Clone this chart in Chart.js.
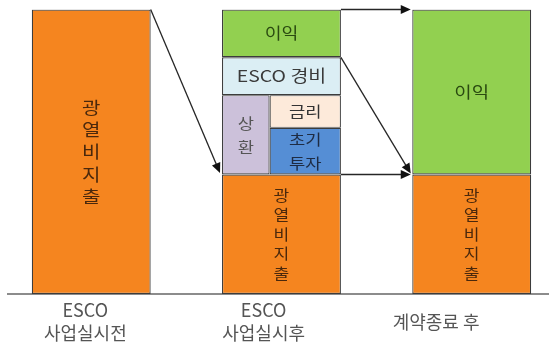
<!DOCTYPE html>
<html lang="ko">
<head>
<meta charset="utf-8">
<title>ESCO 사업 비용 구조</title>
<script src="https://cdn.jsdelivr.net/npm/chart.js@4.4.1/dist/chart.umd.min.js"></script>
<style>
  html, body { margin: 0; padding: 0; background: #fff; }
</style>
</head>
<body>
<canvas id="c" width="549" height="344"></canvas>
<script>
// stages along the bottom axis
const stageLabels = [['ESCO', '사업실시전'], ['ESCO', '사업실시후'], '계약종료 후'];

// cost split per stage, as a share of the energy bill before the project (= 100)
const energyCost    = [100, 42, 42];
const repayment     = [null, 27.9, null];   // 상환 = 금리 + 초기투자
const interest      = [null, 11.5, null];
const initialInvest = [null, 16.4, null];
const escoFee       = [null, 13.3, null];
const profit        = [null, 16.8, 58];

// words written inside the blocks ('\n' starts a new line)
const energyText   = ['광\n열\n비\n지\n출', '광\n열\n비\n지\n출', '광\n열\n비\n지\n출'];
const repayText    = [null, '상\n환', null];
const interestText = [null, '금리', null];
const investText   = [null, '초기\n투자', null];
const feeText      = [null, 'ESCO 경비', null];
const profitText   = [null, '이익', '이익'];

// ---- layout on the x scale (1 unit = one tick step) ----
const COL_X = [0, 32, 64];     // column centres
const COL_W = 20;              // column width
const LEFT_W = 8;              // 상환 strip on the left of the middle column
const LABEL_X = [-1, 29, 58];  // where the stage names sit
const FONT = "'Noto Sans CJK KR', 'Noto Sans', sans-serif";

const leftX = c => c - COL_W / 2 + LEFT_W / 2;
const rightX = c => c - COL_W / 2 + LEFT_W + (COL_W - LEFT_W) / 2;

// floating blocks [low, high] stacked by hand, since the middle column is split in two
const blocks = { energy: [], repay: [], invest: [], interest: [], fee: [], profit: [] };
stageLabels.forEach((_, i) => {
  const cx = COL_X[i];
  let level = energyCost[i];
  blocks.energy.push({ x: cx, y: [0, level], text: energyText[i], col: i });
  if (repayment[i]) {
    const mid = level + initialInvest[i];
    blocks.repay.push({ x: leftX(cx), y: [level, level + repayment[i]], text: repayText[i], col: i });
    blocks.invest.push({ x: rightX(cx), y: [level, mid], text: investText[i], col: i });
    blocks.interest.push({ x: rightX(cx), y: [mid, mid + interest[i]], text: interestText[i], col: i });
    level += repayment[i];
  }
  if (escoFee[i]) {
    blocks.fee.push({ x: cx, y: [level, level + escoFee[i]], text: feeText[i], col: i });
    level += escoFee[i];
  }
  if (profit[i]) {
    blocks.profit.push({ x: cx, y: [level, level + profit[i]], text: profitText[i], col: i });
    level += profit[i];
  }
});

function block(label, data, fill, width, ink, size, gap) {
  return {
    label, data,
    backgroundColor: fill,
    borderColor: '#3c3c3c',
    borderWidth: 1.2,
    borderSkipped: false,
    barPercentage: width,
    categoryPercentage: 1,
    grouped: false,
    ink, size, gap,
  };
}

const datasets = [
  block('광열비 지출', blocks.energy, '#F5851F', COL_W, '#4a280c', [17, 14.5, 14.5], [22.3, 19.5, 19.5]),
  block('상환', blocks.repay, '#CCC1DA', LEFT_W, '#555555', 15, 24),
  block('초기투자', blocks.invest, '#558ED5', COL_W - LEFT_W, '#1e2c44', 15, 24),
  block('금리', blocks.interest, '#FDEADA', COL_W - LEFT_W, '#333333', 15, 20),
  block('ESCO 경비', blocks.fee, '#DBEEF4', COL_W, '#3a3a3a', 16.5, 20),
  block('이익', blocks.profit, '#92D050', COL_W, '#2a4a10', [15.5, 16], 20),
];

const pick = (v, i) => (Array.isArray(v) ? v[i] : v);

// labels inside each block
const blockText = {
  id: 'blockText',
  afterDatasetsDraw(chart) {
    const ctx = chart.ctx;
    chart.data.datasets.forEach((ds, di) => {
      chart.getDatasetMeta(di).data.forEach((bar, j) => {
        const text = ds.data[j].text;
        if (!text) return;
        const lines = text.split('\n');
        const size = pick(ds.size, j), gap = pick(ds.gap, j);
        const cy = (bar.y + bar.base) / 2;
        ctx.save();
        ctx.font = `${size}px ${FONT}`;
        ctx.fillStyle = ds.ink;
        ctx.textAlign = 'center';
        ctx.textBaseline = 'middle';
        ctx.translate(bar.x, cy);
        ctx.scale(1.18, 1);
        lines.forEach((ln, k) => ctx.fillText(ln, 0, (k - (lines.length - 1) / 2) * gap));
        ctx.restore();
      });
    });
  },
};

function arrow(ctx, x0, y0, x1, y1) {
  const a = Math.atan2(y1 - y0, x1 - x0), len = 10, half = 4.5;
  const c = Math.cos(a), s = Math.sin(a);
  ctx.beginPath();
  ctx.moveTo(x0, y0);
  ctx.lineTo(x1 - c * len * 0.6, y1 - s * len * 0.6);
  ctx.stroke();
  ctx.beginPath();
  ctx.moveTo(x1, y1);
  ctx.lineTo(x1 - c * len + s * half, y1 - s * len - c * half);
  ctx.lineTo(x1 - c * len - s * half, y1 - s * len + c * half);
  ctx.closePath();
  ctx.fill();
}

// arrows between the stage columns, anchored on block corners
const stageArrows = {
  id: 'stageArrows',
  afterDatasetsDraw(chart) {
    const ctx = chart.ctx;
    const energy = chart.getDatasetMeta(0).data;
    const prof = chart.getDatasetMeta(5).data;
    const right = b => b.x + b.width / 2, left = b => b.x - b.width / 2;
    ctx.save();
    ctx.strokeStyle = '#262626';
    ctx.fillStyle = '#111111';
    ctx.lineWidth = 1.3;
    arrow(ctx, right(energy[0]), energy[0].y, left(energy[1]) - 2, energy[1].y - 1.5);
    arrow(ctx, right(prof[0]), prof[0].y, left(prof[1]) - 1.5, prof[1].y);
    arrow(ctx, right(prof[0]), prof[0].base, left(energy[2]) - 1.5, energy[2].y - 1);
    arrow(ctx, right(energy[1]), energy[1].y, left(energy[2]) - 1.5, energy[2].y);
    ctx.restore();
  },
};

new Chart(document.getElementById('c'), {
  type: 'bar',
  data: { datasets },
  options: {
    responsive: false,
    animation: false,
    events: [],
    layout: { padding: { left: 8, right: 0, top: 9.5, bottom: 0 } },
    plugins: { legend: { display: false }, tooltip: { enabled: false } },
    scales: {
      x: {
        type: 'linear',
        min: -14,
        max: 77,
        offset: false,
        grid: { display: false, drawTicks: false },
        border: { display: true, color: '#8c8c8c', width: 2 },
        ticks: {
          stepSize: 1,
          autoSkip: false,
          maxRotation: 0,
          minRotation: 0,
          padding: 16,
          crossAlign: 'center',
          color: '#555555',
          font: { family: FONT, size: 18, lineHeight: 1.3 },
          callback: v => {
            const k = LABEL_X.indexOf(v);
            return k < 0 ? '' : stageLabels[k];
          },
        },
        // the edge ticks carry no text, so no side padding is needed
        afterFit: s => { s.height = 50; s.paddingLeft = 0; s.paddingRight = 0; },
      },
      y: { display: false, min: 0, max: 100 },
    },
  },
  plugins: [blockText, stageArrows],
});
</script>
</body>
</html>
